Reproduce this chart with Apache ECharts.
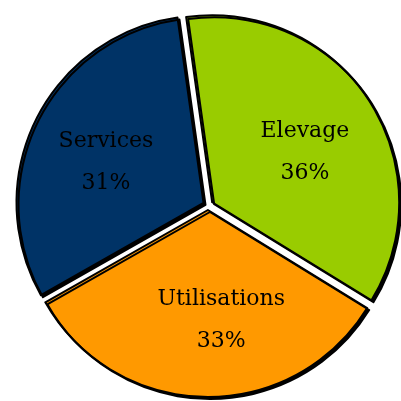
<!DOCTYPE html>
<html>
<head>
<meta charset="utf-8">
<script src="https://cdn.jsdelivr.net/npm/echarts@6/dist/echarts.min.js"></script>
<style>
  html, body { margin: 0; padding: 0; background: #fff; }
  #main { width: 401px; height: 401px; }
</style>
</head>
<body>
<div id="main"></div>
<script>
// parts du chiffre
var categories = ['Elevage', 'Utilisations', 'Services'];
var values = [36, 33, 31];
var colors = ['#99CC00', '#FF9900', '#003366'];

var chart = echarts.init(document.getElementById('main'));

var pieData = categories.map(function (name, i) {
    return {
        name: name,
        value: values[i],
        selected: true,
        itemStyle: { color: colors[i] }
    };
});

// petits décalages des étiquettes
var labelShift = [[12, 3], [15, 14], [-11, 2]];

chart.setOption({
    animation: false,
    series: [{
        type: 'pie',
        center: [208, 205],
        radius: 187,
        startAngle: 98,
        clockwise: true,
        selectedMode: 'multiple',
        selectedOffset: 5,
        itemStyle: {
            borderColor: '#000',
            borderWidth: 2,
            shadowColor: '#000',
            shadowBlur: 0,
            shadowOffsetX: 2,
            shadowOffsetY: 2
        },
        label: {
            show: true,
            position: 'inside',
            formatter: '{b}\n{c}%',
            color: '#000',
            fontFamily: 'DejaVu Serif',
            fontSize: 22,
            lineHeight: 42
        },
        labelLayout: function (p) {
            return { dx: labelShift[p.dataIndex][0], dy: labelShift[p.dataIndex][1] };
        },
        labelLine: { show: false },
        emphasis: { disabled: true },
        data: pieData
    }]
});
</script>
</body>
</html>
